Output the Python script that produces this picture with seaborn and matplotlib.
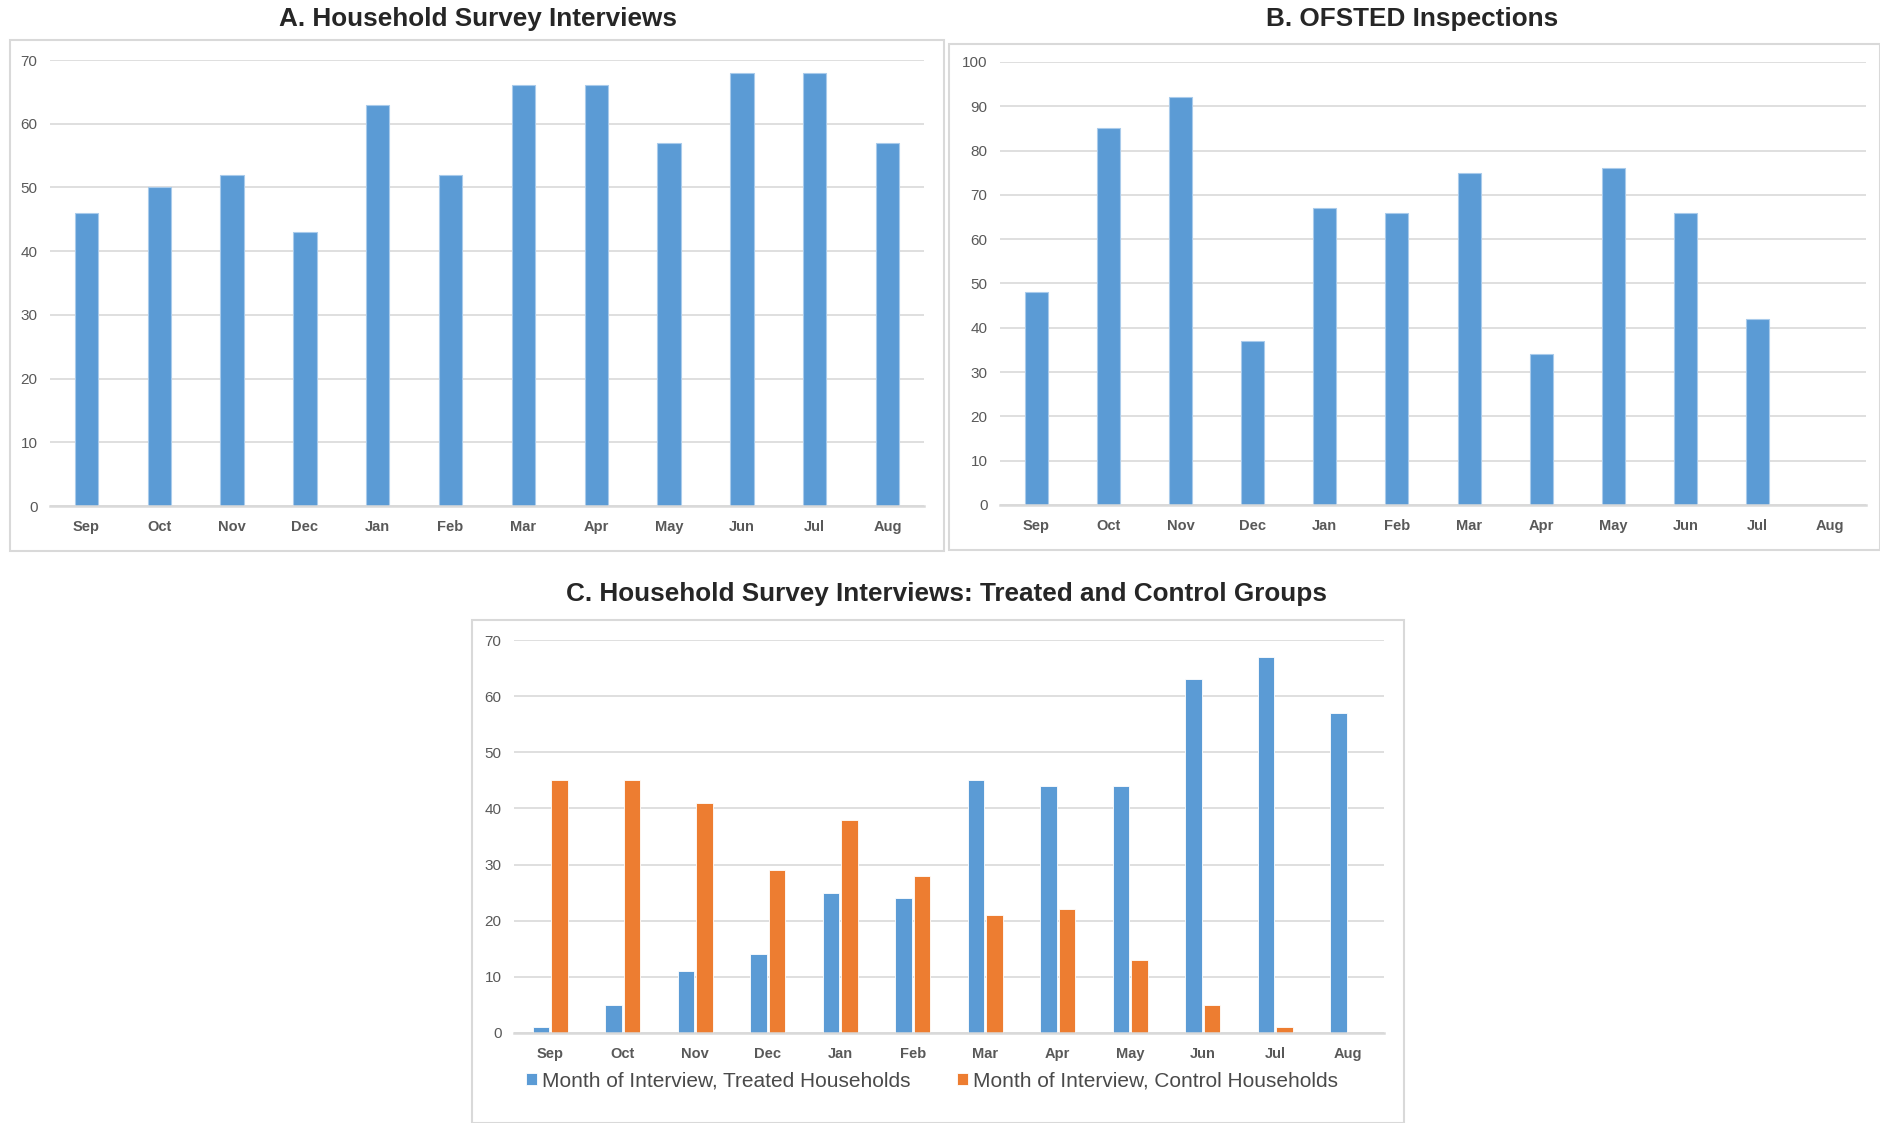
import pandas as pd
import numpy as np
import matplotlib.pyplot as plt
import matplotlib.patches as mpatches
import seaborn as sns

months = ['Sep', 'Oct', 'Nov', 'Dec', 'Jan', 'Feb', 'Mar', 'Apr', 'May', 'Jun', 'Jul', 'Aug']
survey = [46, 50, 52, 43, 63, 52, 66, 66, 57, 68, 68, 57]
ofsted = [48, 85, 92, 37, 67, 66, 75, 34, 76, 66, 42, np.nan]
treated = [1, 5, 11, 14, 25, 24, 45, 44, 44, 63, 67, 57]
control = [45, 45, 41, 29, 38, 28, 21, 22, 13, 5, 1, np.nan]
group_names = ['Month of Interview, Treated Households', 'Month of Interview, Control Households']

blue = '#5B9BD5'
orange = '#ED7D31'
grid_col = '#D9D9D9'
txt_col = '#595959'

sns.set_style('white')
plt.rcParams['font.family'] = ['Liberation Sans', 'DejaVu Sans']

W, H = 1881, 1123
fig = plt.figure(figsize=(W / 100, H / 100), dpi=100)


def frac(x0, y0, x1, y1):
    # pixel box (top-left origin) -> figure fraction rect
    return [x0 / W, 1 - y1 / H, (x1 - x0) / W, (y1 - y0) / H]


def style_axis(ax, ymax, step):
    ax.set_ylim(0, ymax)
    ax.set_yticks(np.arange(0, ymax + 1, step))
    ax.yaxis.grid(True, color=grid_col, linewidth=1.2)
    ax.set_axisbelow(True)
    for s in ['top', 'right', 'left']:
        ax.spines[s].set_visible(False)
    ax.spines['bottom'].set_color(grid_col)
    ax.spines['bottom'].set_linewidth(1.8)
    ax.tick_params(axis='both', length=0, colors=txt_col)
    ax.tick_params(axis='y', labelsize=11, pad=9)
    ax.tick_params(axis='x', labelsize=10.5, pad=10)
    for lab in ax.get_xticklabels():
        lab.set_fontweight('bold')
    ax.set_xlabel('')
    ax.set_ylabel('')


# chart frames
for box in [(10, 40, 944, 551), (949, 44, 1880, 550), (472, 620, 1404, 1123)]:
    fig.patches.append(mpatches.Rectangle((box[0] / W, 1 - box[3] / H),
                                          (box[2] - box[0]) / W, (box[3] - box[1]) / H,
                                          transform=fig.transFigure, fill=False,
                                          edgecolor=grid_col, linewidth=1.5))

# A
df_a = pd.DataFrame({'month': months, 'n': survey})
ax_a = fig.add_axes(frac(50, 60, 924, 506))
sns.barplot(data=df_a, x='month', y='n', order=months, color=blue, width=0.32,
            saturation=1, edgecolor='#A9CBEB', linewidth=0.8, ax=ax_a)
style_axis(ax_a, 70, 10)
fig.text(478 / W, 1 - 19 / H, 'A. Household Survey Interviews', ha='center', va='center',
         fontsize=18.8, fontweight='bold')

# B
df_b = pd.DataFrame({'month': months, 'n': ofsted})
ax_b = fig.add_axes(frac(1000, 62, 1866, 505))
sns.barplot(data=df_b, x='month', y='n', order=months, color=blue, width=0.32,
            saturation=1, edgecolor='#A9CBEB', linewidth=0.8, ax=ax_b)
style_axis(ax_b, 100, 10)
fig.text(1412 / W, 1 - 19 / H, 'B. OFSTED Inspections', ha='center', va='center',
         fontsize=18.8, fontweight='bold')

# C
df_c = pd.DataFrame({'month': months * 2,
                     'n': treated + control,
                     'group': [group_names[0]] * 12 + [group_names[1]] * 12})
ax_c = fig.add_axes(frac(514, 640, 1384, 1033))
sns.barplot(data=df_c, x='month', y='n', hue='group', order=months, hue_order=group_names,
            palette=[blue, orange], width=0.51, gap=0.13, saturation=1,
            edgecolor='white', linewidth=0.6, ax=ax_c)
style_axis(ax_c, 70, 10)
handles, labels = ax_c.get_legend_handles_labels()
ax_c.get_legend().remove()
fig.legend(handles, labels, loc='center', bbox_to_anchor=(932 / W, 1 - 1081 / H), ncol=2,
           frameon=False, handlelength=0.55, handleheight=0.55,
           handletextpad=0.25, columnspacing=2.2, labelcolor='#4a4a4a',
           prop={'family': ['Liberation Sans', 'DejaVu Sans'], 'size': 15})
fig.text(947 / W, 1 - 594 / H, 'C. Household Survey Interviews: Treated and Control Groups',
         ha='center', va='center', fontsize=18.8, fontweight='bold')

plt.savefig('out.png', dpi=100)
